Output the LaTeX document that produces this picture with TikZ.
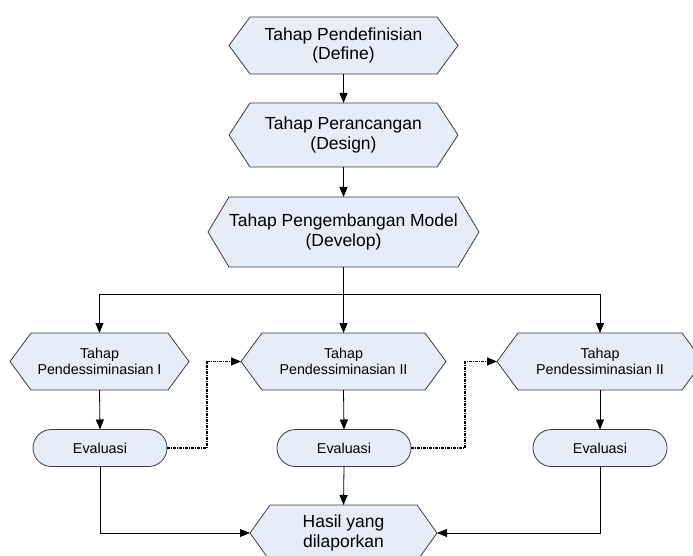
\documentclass[tikz,border=0pt]{standalone}
\usepackage{fontspec}
\setmainfont{Liberation Sans}
\usetikzlibrary{arrows.meta,shapes.misc,backgrounds}
\definecolor{boxfill}{RGB}{230,237,248}
\definecolor{boxline}{RGB}{60,60,60}

\begin{document}
\begin{tikzpicture}[x=1pt,y=-1pt,
  stage/.style={inner sep=0pt, outer sep=0pt, align=center},
  big/.style={font=\fontsize{17.5}{19.5}\selectfont},
  small/.style={font=\fontsize{14.3}{16}\selectfont},
  hexshape/.style={fill=boxfill, draw=boxline, line width=0.8pt, line join=miter},
  evalbox/.style={rounded rectangle, draw=boxline, fill=boxfill, line width=0.8pt,
    minimum width=134pt, minimum height=37pt, inner sep=0pt, outer sep=0pt, small},
  flow/.style={-{Triangle[length=10pt,width=8pt]}, line width=0.8pt, black},
  loopback/.style={flow, dash pattern=on 3pt off 1pt on 1pt off 1pt, line width=1.1pt},
]
\useasboundingbox (0,0) rectangle (693,556);
\clip (0,0) rectangle (693,556);

% main stages
\node[stage, big, minimum width=229pt, minimum height=57pt] (d1) at (343.5,45.5)
  {Tahap Pendefinisian\\(Define)};
\node[stage, big, minimum width=229pt, minimum height=64pt] (d2) at (343.5,135)
  {Tahap Perancangan\\(Design)};
\node[stage, big, minimum width=271pt, minimum height=70pt] (d3) at (343.5,232)
  {Tahap Pengembangan Model\\(Develop)};

% dissemination stages
\node[stage, small, minimum width=179pt, minimum height=57pt] (p1) at (99.5,361.5)
  {Tahap\\Pendessiminasian I};
\node[stage, small, minimum width=205pt, minimum height=57pt] (p2) at (343.5,361.5)
  {Tahap\\Pendessiminasian II};
\node[stage, small, minimum width=206pt, minimum height=57pt] (p3) at (600,361.5)
  {Tahap\\Pendessiminasian II};

% evaluations
\node[evalbox] (e1) at (100,448) {Evaluasi};
\node[evalbox] (e2) at (344,448) {Evaluasi};
\node[evalbox] (e3) at (600,448) {Evaluasi};

% result
\node[stage, big, minimum width=187pt, minimum height=56pt] (h) at (343.5,533)
  {Hasil yang\\dilaporkan};

% hexagon outlines behind the stage texts
\begin{scope}[on background layer]
  \clip (0,0) rectangle (693,556);
  \foreach \n/\d in {d1/21,d2/21,d3/21,p1/21,p2/21,p3/21,h/20}{
    \path[hexshape] (\n.west) -- ([xshift=\d pt]\n.north west) -- ([xshift=-\d pt]\n.north east)
      -- (\n.east) -- ([xshift=-\d pt]\n.south east) -- ([xshift=\d pt]\n.south west) -- cycle;
  }
\end{scope}

% helper points
\coordinate (split) at (343.5,294);
\coordinate (j1) at (207,400);
\coordinate (j2) at (465,400);

% connectors
\draw[flow] (d1.south) -- (d2.north);
\draw[flow] (d2.south) -- (d3.north);
\draw[flow] (d3.south) -- (p2.north);
\draw[flow] (split) -| (p1.north);
\draw[flow] (split) -| (p3.north);

\draw[flow] (p1.south) -- (e1.north);
\draw[flow] (p2.south) -- (e2.north);
\draw[flow] (p3.south) -- (e3.north);

\draw[loopback] (e1.east) -- (e1.east -| j1) |- (p2.west);
\draw[loopback] (e2.east) -- (e2.east -| j2) |- (p3.west);

\draw[flow] (e1.south) |- (h.west);
\draw[flow] (e2.south) -- (h.north);
\draw[flow] (e3.south) |- (h.east);
\end{tikzpicture}
\end{document}
